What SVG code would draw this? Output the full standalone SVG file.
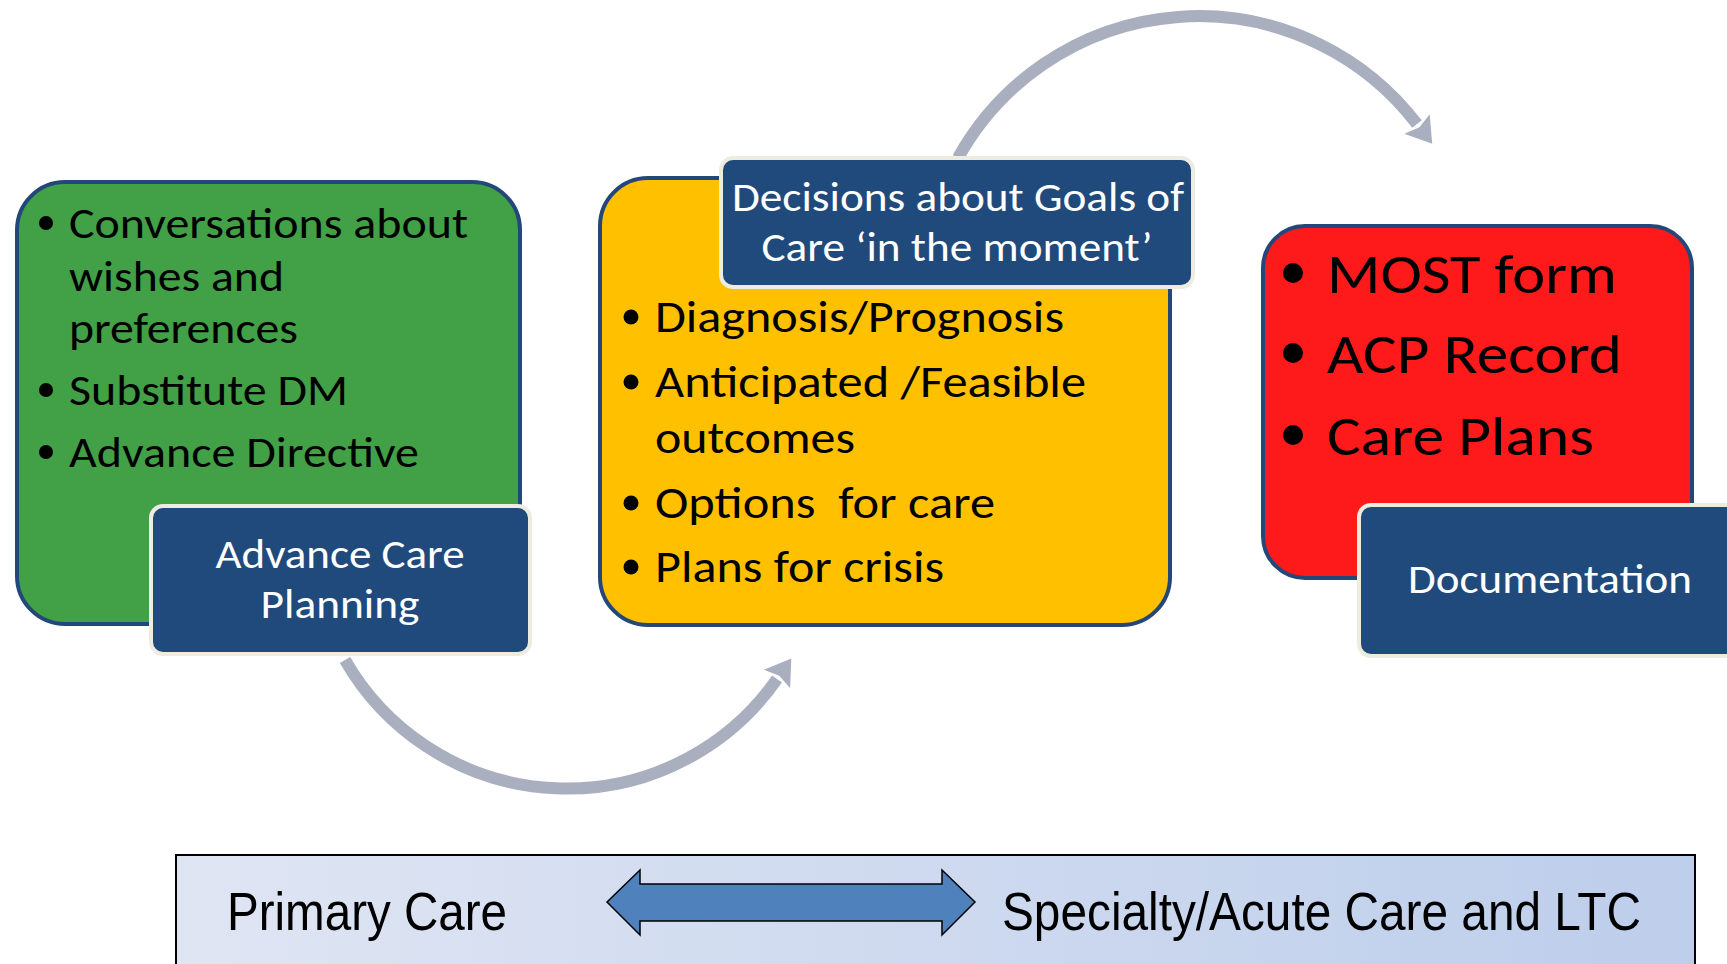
<svg xmlns="http://www.w3.org/2000/svg" width="1727" height="964" viewBox="0 0 1727 964">
  <style>
    .box { stroke: #24477a; stroke-width: 4; }
    .tag { fill: #214a7c; stroke: #eeece1; stroke-width: 4; }
    .body { font-family: Carlito, Lato, "Open Sans", sans-serif; fill: #000; }
    .tagtxt { font-family: Carlito, Lato, "Open Sans", sans-serif; fill: #fff; font-size: 40px; text-anchor: middle; }
    .flow { fill: none; stroke: #a9afbf; stroke-width: 12; }
    .band { font-family: "Liberation Sans", Arial, sans-serif; font-size: 53px; fill: #000; }
  </style>
  <defs>
    <marker id="head" markerUnits="userSpaceOnUse" viewBox="0 -17 26 34" markerWidth="26" markerHeight="34" refX="0" refY="0" orient="auto">
      <path d="M0,-16 L25,0 L0,16 L4,0 Z" fill="#a9afbf"/>
    </marker>
    <linearGradient id="bandFill" x1="0" y1="0" x2="1" y2="0">
      <stop offset="0" stop-color="#dfe5f3"/>
      <stop offset="1" stop-color="#bdceeb"/>
    </linearGradient>
  </defs>

  <rect width="1727" height="964" fill="#fff"/>

  <!-- curved flow arrows -->
  <g id="connectors">
    <path class="flow" d="M 345 660 A 256 256 0 0 0 777 679" marker-end="url(#head)"/>
    <path class="flow" d="M 958 158 A 275 275 0 0 1 1417 124" marker-end="url(#head)"/>
  </g>

  <!-- Advance Care Planning -->
  <g id="acp">
    <rect class="box" x="17" y="182" width="503" height="442" rx="48" fill="#42a046"/>
    <g class="body" font-size="43">
      <circle cx="46" cy="223" r="7"/>
      <text x="69" y="238" textLength="399" lengthAdjust="spacingAndGlyphs">Conversations about</text>
      <text x="69" y="291" textLength="215" lengthAdjust="spacingAndGlyphs">wishes and</text>
      <text x="69" y="343" textLength="229" lengthAdjust="spacingAndGlyphs">preferences</text>
      <circle cx="46" cy="390" r="7"/>
      <text x="69" y="405" textLength="279" lengthAdjust="spacingAndGlyphs">Substitute DM</text>
      <circle cx="46" cy="452" r="7"/>
      <text x="69" y="467" textLength="350" lengthAdjust="spacingAndGlyphs">Advance Directive</text>
    </g>
    <rect class="tag" x="151" y="506" width="379" height="148" rx="12"/>
    <text class="tagtxt" x="340" y="568" textLength="249" lengthAdjust="spacingAndGlyphs">Advance Care</text>
    <text class="tagtxt" x="340" y="618" textLength="159" lengthAdjust="spacingAndGlyphs">Planning</text>
  </g>

  <!-- Goals of care decisions -->
  <g id="goals">
    <rect class="box" x="600" y="178" width="570" height="447" rx="48" fill="#ffc000"/>
    <g class="body" font-size="45">
      <circle cx="631" cy="317" r="7.5"/>
      <text x="655" y="332" textLength="409" lengthAdjust="spacingAndGlyphs">Diagnosis/Prognosis</text>
      <circle cx="631" cy="382" r="7.5"/>
      <text x="655" y="397" textLength="431" lengthAdjust="spacingAndGlyphs">Anticipated /Feasible</text>
      <text x="655" y="453" textLength="200" lengthAdjust="spacingAndGlyphs">outcomes</text>
      <circle cx="631" cy="503" r="7.5"/>
      <text x="655" y="518" textLength="340" lengthAdjust="spacingAndGlyphs" xml:space="preserve">Options  for care</text>
      <circle cx="631" cy="567" r="7.5"/>
      <text x="655" y="582" textLength="289" lengthAdjust="spacingAndGlyphs">Plans for crisis</text>
    </g>
    <rect class="tag" x="721" y="158" width="472" height="129" rx="12"/>
    <text class="tagtxt" x="958" y="211" textLength="452" lengthAdjust="spacingAndGlyphs">Decisions about Goals of</text>
    <text class="tagtxt" x="957" y="261" textLength="391" lengthAdjust="spacingAndGlyphs">Care ‘in the moment’</text>
  </g>

  <!-- Documentation -->
  <g id="documentation">
    <rect class="box" x="1263" y="226" width="429" height="352" rx="42" fill="#fe1a1a"/>
    <g class="body" font-size="56">
      <circle cx="1293" cy="273" r="10"/>
      <text x="1327" y="293" textLength="290" lengthAdjust="spacingAndGlyphs">MOST form</text>
      <circle cx="1293" cy="353" r="10"/>
      <text x="1327" y="373" textLength="295" lengthAdjust="spacingAndGlyphs">ACP Record</text>
      <circle cx="1293" cy="435" r="10"/>
      <text x="1327" y="455" textLength="267" lengthAdjust="spacingAndGlyphs">Care Plans</text>
    </g>
    <rect class="tag" x="1359" y="505" width="420" height="151" rx="12"/>
    <text class="tagtxt" x="1550" y="593" textLength="284" lengthAdjust="spacingAndGlyphs">Documentation</text>
  </g>

  <!-- care settings band -->
  <g id="settings">
    <rect x="176" y="855" width="1519" height="130" fill="url(#bandFill)" stroke="#000" stroke-width="2"/>
    <text class="band" x="227" y="930" textLength="280" lengthAdjust="spacingAndGlyphs">Primary Care</text>
    <polygon points="607,902 640,870 640,884 942,884 942,870 975,902 942,935 942,921 640,921 640,935" fill="#4f81bd" stroke="#000" stroke-width="1.5" stroke-linejoin="miter"/>
    <text class="band" x="1002" y="930" textLength="639" lengthAdjust="spacingAndGlyphs">Specialty/Acute Care and LTC</text>
  </g>
</svg>
